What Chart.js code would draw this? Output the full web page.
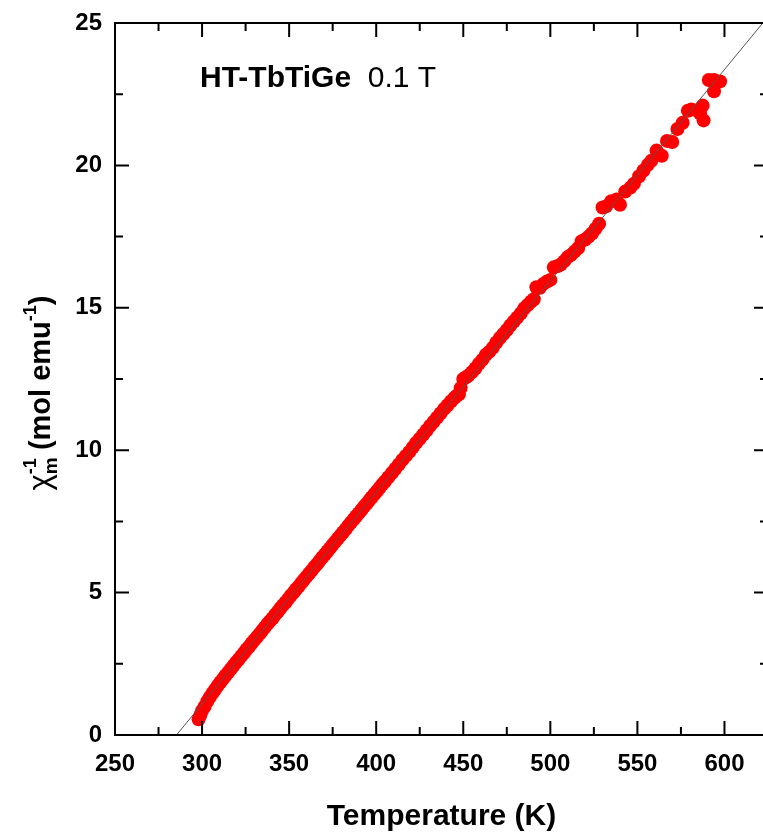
<!DOCTYPE html>
<html>
<head>
    <title>HT-TbTiGe inverse susceptibility</title>
    <script src="https://cdn.jsdelivr.net/npm/chart.js"></script>
    <style>
        html, body { margin: 0; padding: 0; background: #fff; overflow: hidden; }
        #wrap { width: 763px; height: 839px; overflow: hidden; }
    </style>
</head>
<body>
    <div id="wrap">
        <canvas id="chiChart" width="775" height="839"></canvas>
    </div>

    <script>
        // measured points: temperature (K) and inverse molar susceptibility (mol emu^-1)
        const temps = [
            298, 299, 300, 301.5, 303, 304.5, 306, 307.5, 309, 310.5,
            312, 313.5, 315, 316.5, 318, 319.5, 321, 322.5, 324, 325.5,
            327, 328.5, 330, 331.5, 333, 334.5, 336, 337.5, 339, 340.5,
            342, 343.5, 345, 346.5, 348, 349.5, 351, 352.5, 354, 355.5,
            357, 358.5, 360, 361.5, 363, 364.5, 366, 367.5, 369, 370.5,
            372, 373.5, 375, 376.5, 378, 379.5, 381, 382.5, 384, 385.5,
            387, 388.5, 390, 391.5, 393, 394.5, 396, 397.5, 399, 400.5,
            402, 403.5, 405, 407, 409, 411, 413, 415, 417, 419,
            421, 423, 425, 427, 429, 431, 433, 435, 437, 439,
            441, 443, 445, 446, 447.5, 448.5, 450, 451.5, 453, 455,
            457, 459, 461, 463, 465, 467, 469, 471, 473, 475,
            477, 479, 481, 483, 485, 487, 489, 490.5, 492, 494,
            496, 498, 500, 502, 504, 506, 508, 510, 512, 514,
            516, 518, 520, 522, 524, 526, 528, 530, 532, 535,
            538, 540, 543, 546, 548, 551, 553.5, 556, 558, 561,
            564, 567, 570, 573, 576, 579, 581, 584, 586, 587.5,
            588, 591, 594, 594, 597.5
        ];
        const invChi = [
            0.55, 0.70, 0.85, 1.00, 1.18, 1.33, 1.47, 1.60, 1.73, 1.85,
            1.97, 2.09, 2.20, 2.32, 2.43, 2.55, 2.65, 2.77, 2.88, 3.00,
            3.10, 3.22, 3.33, 3.44, 3.55, 3.66, 3.78, 3.90, 4.00, 4.10,
            4.22, 4.33, 4.45, 4.56, 4.66, 4.78, 4.90, 5.00, 5.12, 5.22,
            5.34, 5.45, 5.56, 5.67, 5.78, 5.90, 6.00, 6.12, 6.23, 6.34,
            6.45, 6.56, 6.68, 6.79, 6.90, 7.01, 7.12, 7.23, 7.35, 7.46,
            7.57, 7.68, 7.79, 7.90, 8.02, 8.12, 8.24, 8.35, 8.46, 8.57,
            8.68, 8.80, 8.90, 9.05, 9.20, 9.35, 9.50, 9.66, 9.80, 9.94,
            10.10, 10.26, 10.40, 10.55, 10.70, 10.86, 11.00, 11.15, 11.30, 11.45,
            11.58, 11.72, 11.84, 11.90, 11.96, 12.18, 12.50, 12.56, 12.62, 12.74,
            12.88, 13.04, 13.18, 13.35, 13.46, 13.60, 13.78, 13.94, 14.08, 14.22,
            14.38, 14.52, 14.66, 14.80, 14.98, 15.10, 15.22, 15.30, 15.72, 15.70,
            15.84, 15.92, 15.98, 16.42, 16.46, 16.52, 16.64, 16.78, 16.86, 16.98,
            17.10, 17.34, 17.40, 17.50, 17.62, 17.78, 17.95, 18.52, 18.56, 18.74,
            18.80, 18.62, 19.08, 19.22, 19.36, 19.62, 19.82, 20.02, 20.16, 20.52,
            20.34, 20.86, 20.82, 21.28, 21.50, 21.92, 21.96, 21.94, 21.82, 22.10,
            21.58, 23.00, 22.60, 23.00, 22.95
        ];

        // Curie-Weiss fit line end points
        const fitTemps = [285.3, 622];
        const fitChi = [0, 25];

        const xTickLabels = [250, 300, 350, 400, 450, 500, 550, 600];
        const xMinorTicks = [275, 325, 375, 425, 475, 525, 575, 625];
        const yTickLabels = [0, 5, 10, 15, 20, 25];
        const yMinorTicks = [2.5, 7.5, 12.5, 17.5, 22.5];

        const FONT = "'Liberation Sans', Arial, Helvetica, sans-serif";
        Chart.defaults.font.family = FONT;
        Chart.defaults.color = '#000';

        // draws a run of text pieces with different fonts / vertical shifts
        function drawRich(ctx, parts, x, y) {
            let cx = x;
            parts.forEach(p => {
                ctx.font = p.font;
                ctx.fillText(p.text, cx, y + (p.dy || 0));
                if (!p.noAdvance) cx += ctx.measureText(p.text).width;
            });
        }
        function richWidth(ctx, parts) {
            let w = 0;
            parts.forEach(p => {
                ctx.font = p.font;
                if (!p.noAdvance) w += ctx.measureText(p.text).width;
            });
            return w;
        }

        const framePlugin = {
            id: 'frame',
            afterDatasetsDraw(chart) {
                const ctx = chart.ctx;
                const a = chart.chartArea;
                const xs = chart.scales.x;
                const ys = chart.scales.y;
                ctx.save();
                ctx.strokeStyle = '#000';
                ctx.lineWidth = 2;
                ctx.strokeRect(a.left, a.top, a.right - a.left, a.bottom - a.top);

                ctx.beginPath();
                const xTick = (v, len) => {
                    const px = xs.getPixelForValue(v);
                    ctx.moveTo(px, a.bottom); ctx.lineTo(px, a.bottom - len);
                    ctx.moveTo(px, a.top); ctx.lineTo(px, a.top + len);
                };
                const yTick = (v, len) => {
                    const py = ys.getPixelForValue(v);
                    ctx.moveTo(a.left, py); ctx.lineTo(a.left + len, py);
                    ctx.moveTo(a.right, py); ctx.lineTo(a.right - len, py);
                };
                xTickLabels.forEach(v => xTick(v, 14));
                xMinorTicks.forEach(v => xTick(v, 8));
                yTickLabels.forEach(v => yTick(v, 14));
                yMinorTicks.forEach(v => yTick(v, 8));
                ctx.stroke();

                // sample label
                ctx.fillStyle = '#000';
                ctx.textBaseline = 'alphabetic';
                ctx.textAlign = 'left';
                drawRich(ctx, [
                    { text: 'HT-TbTiGe', font: 'bold 30px ' + FONT },
                    { text: '  0.1 T', font: '30px ' + FONT }
                ], a.left + 85, a.top + 64);

                // y axis title: chi_m^-1 (mol emu^-1)
                const parts = [
                    { text: '\u03C7', font: '31px ' + FONT },
                    { text: 'm', font: 'bold 19px ' + FONT, dy: 7, noAdvance: true },
                    { text: '-1', font: 'bold 18px ' + FONT, dy: -14 },
                    { text: ' (mol emu', font: 'bold 29px ' + FONT },
                    { text: '-1', font: 'bold 18px ' + FONT, dy: -14 },
                    { text: ')', font: 'bold 29px ' + FONT }
                ];
                const w = richWidth(ctx, parts);
                ctx.translate(50, 393);
                ctx.rotate(-Math.PI / 2);
                drawRich(ctx, parts, -w / 2, 0);
                ctx.restore();
            }
        };

        const ctx = document.getElementById('chiChart').getContext('2d');
        new Chart(ctx, {
            type: 'scatter',
            data: {
                datasets: [
                    {
                        label: 'fit',
                        data: fitTemps.map((t, i) => ({ x: t, y: fitChi[i] })),
                        showLine: true,
                        borderColor: '#555',
                        borderWidth: 1,
                        pointRadius: 0,
                        order: 0
                    },
                    {
                        label: 'HT-TbTiGe 0.1 T',
                        data: temps.map((t, i) => ({ x: t, y: invChi[i] })),
                        backgroundColor: '#ff0000',
                        borderColor: '#ff0000',
                        borderWidth: 0,
                        pointRadius: 7,
                        order: 1
                    }
                ]
            },
            options: {
                responsive: false,
                animation: false,
                layout: { padding: { top: 23, right: 2, left: 0, bottom: 0 } },
                plugins: {
                    legend: { display: false },
                    tooltip: { enabled: false }
                },
                scales: {
                    x: {
                        type: 'linear',
                        min: 250,
                        max: 625,
                        grid: { display: false, drawTicks: false },
                        border: { display: false },
                        afterBuildTicks: axis => { axis.ticks = xTickLabels.map(v => ({ value: v })); },
                        afterFit: axis => {
                            axis.height = 104;
                            axis.paddingLeft = 0;
                            axis.paddingRight = 0;
                        },
                        ticks: {
                            padding: 15,
                            maxRotation: 0,
                            font: { size: 24, weight: 'bold' }
                        },
                        title: {
                            display: true,
                            text: 'Temperature (K)',
                            font: { size: 30, weight: 'bold' },
                            padding: { top: 18 }
                        }
                    },
                    y: {
                        type: 'linear',
                        min: 0,
                        max: 25,
                        grid: { display: false, drawTicks: false },
                        border: { display: false },
                        afterBuildTicks: axis => { axis.ticks = yTickLabels.map(v => ({ value: v })); },
                        afterFit: axis => {
                            axis.width = 115;
                            axis.paddingTop = 0;
                            axis.paddingBottom = 0;
                        },
                        ticks: {
                            padding: 13,
                            font: { size: 24, weight: 'bold' }
                        }
                    }
                }
            },
            plugins: [framePlugin]
        });
    </script>
</body>
</html>
